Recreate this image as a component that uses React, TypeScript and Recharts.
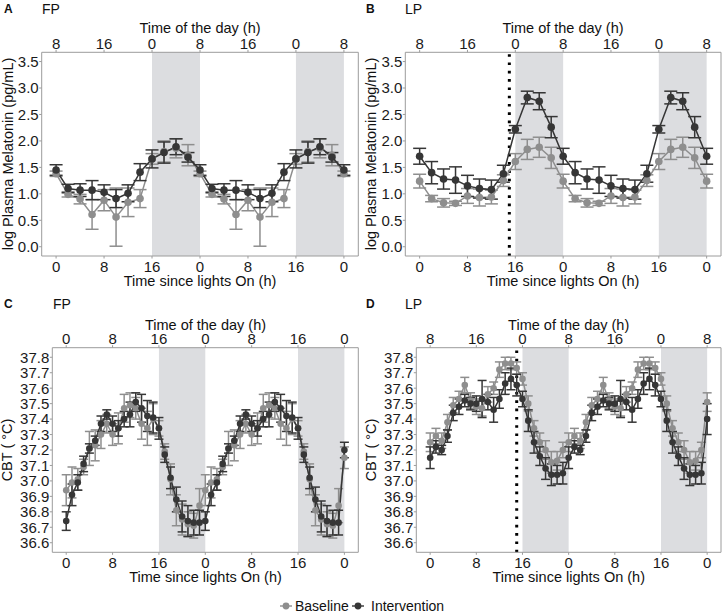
import { ComposedChart, Line, XAxis, YAxis, ReferenceArea, ReferenceLine, ErrorBar } from "recharts";

// x positions (time since lights on, h)
const melHours = [0, 2, 4, 6, 8, 10, 12, 14, 16, 18, 20, 22, 24, 26, 28, 30, 32, 34, 36, 38, 40, 42, 44, 46, 48];
const cbtHours = [
  0, 1, 2, 3, 4, 5, 6, 7, 8, 9, 10, 11, 12, 13, 14, 15, 16, 17, 18, 19, 20, 21, 22, 23, 24,
  25, 26, 27, 28, 29, 30, 31, 32, 33, 34, 35, 36, 37, 38, 39, 40, 41, 42, 43, 44, 45, 46, 47, 48,
];
const xTicks = [0, 8, 16, 24, 32, 40, 48];
const melTicks = [0, 0.5, 1, 1.5, 2, 2.5, 3, 3.5];
const cbtTicks = [36.6, 36.7, 36.8, 36.9, 37.0, 37.1, 37.2, 37.3, 37.4, 37.5, 37.6, 37.7, 37.8];

// A: FP melatonin, 0..24 h every 2 h
const fpMelBase = [1.38, 0.99, 0.9, 0.61, 0.88, 0.56, 0.84, 0.91, 1.66, 1.8, 1.86, 1.73, 1.38];
const fpMelBaseErr = [0.05, 0.05, 0.09, 0.28, 0.2, 0.55, 0.27, 0.17, 0.1, 0.2, 0.18, 0.2, 0.05];
const fpMelInt = [1.45, 1.1, 1.07, 1.07, 1.03, 0.91, 1.01, 1.41, 1.66, 1.78, 1.89, 1.69, 1.45];
const fpMelIntErr = [0.1, 0.08, 0.12, 0.18, 0.14, 0.17, 0.16, 0.16, 0.17, 0.2, 0.15, 0.09, 0.1];

// B: LP melatonin
const lpMelBase = [1.24, 0.91, 0.83, 0.82, 0.96, 0.93, 0.94, 1.25, 1.61, 1.84, 1.88, 1.68, 1.24];
const lpMelBaseErr = [0.13, 0.06, 0.08, 0.04, 0.14, 0.16, 0.13, 0.11, 0.15, 0.19, 0.19, 0.2, 0.13];
const lpMelInt = [1.71, 1.4, 1.28, 1.26, 1.15, 1.1, 1.08, 1.38, 2.22, 2.82, 2.75, 2.26, 1.71];
const lpMelIntErr = [0.15, 0.21, 0.19, 0.25, 0.2, 0.18, 0.18, 0.16, 0.07, 0.12, 0.16, 0.2, 0.15];

// C: FP core body temperature, 0..23 h hourly, plus last point at 48 h
const fpCbtBase = [36.94, 36.99, 37.01, 37.09, 37.21, 37.23, 37.3, 37.37, 37.3, 37.34, 37.47, 37.49, 37.47, 37.37, 37.34, 37.4, 37.34, 37.19, 37.01, 36.81, 36.75, 36.72, 36.71, 36.84];
const fpCbtBaseErr = [0.1, 0.1, 0.07, 0.05, 0.11, 0.1, 0.09, 0.06, 0.07, 0.1, 0.09, 0.08, 0.07, 0.1, 0.11, 0.1, 0.05, 0.05, 0.1, 0.1, 0.1, 0.08, 0.08, 0.11];
const fpCbtBaseEnd = [37.15, 0.07];
const fpCbtInt = [36.74, 36.91, 36.99, 37.11, 37.21, 37.26, 37.37, 37.43, 37.37, 37.34, 37.4, 37.43, 37.51, 37.47, 37.42, 37.41, 37.34, 37.17, 37.02, 36.88, 36.77, 36.74, 36.73, 36.73];
const fpCbtIntErr = [0.06, 0.07, 0.05, 0.05, 0.03, 0.03, 0.05, 0.03, 0.05, 0.05, 0.05, 0.08, 0.06, 0.09, 0.1, 0.1, 0.07, 0.05, 0.07, 0.08, 0.1, 0.1, 0.08, 0.08];
const fpCbtIntEnd = [37.2, 0.05];

// D: LP core body temperature
const lpCbtBase = [37.25, 37.29, 37.26, 37.38, 37.49, 37.53, 37.62, 37.52, 37.48, 37.47, 37.56, 37.6, 37.72, 37.76, 37.76, 37.73, 37.66, 37.5, 37.34, 37.25, 37.2, 37.12, 37.13, 37.2];
const lpCbtBaseErr = [0.06, 0.05, 0.05, 0.05, 0.05, 0.05, 0.05, 0.05, 0.05, 0.05, 0.05, 0.04, 0.05, 0.04, 0.04, 0.04, 0.04, 0.05, 0.05, 0.06, 0.06, 0.07, 0.06, 0.05];
const lpCbtBaseEnd = [37.51, 0.06];
const lpCbtInt = [37.15, 37.22, 37.2, 37.29, 37.44, 37.48, 37.52, 37.5, 37.5, 37.53, 37.51, 37.46, 37.53, 37.63, 37.66, 37.62, 37.53, 37.39, 37.25, 37.16, 37.08, 37.04, 37.04, 37.05];
const lpCbtIntErr = [0.07, 0.04, 0.03, 0.04, 0.05, 0.05, 0.04, 0.04, 0.05, 0.12, 0.05, 0.08, 0.06, 0.07, 0.07, 0.07, 0.05, 0.07, 0.07, 0.06, 0.07, 0.07, 0.06, 0.07];
const lpCbtIntEnd = [37.4, 0.1];

const GRAY = "#8e8e8e";
const DARK = "#363636";
const FRAME = "#9c9c9c";
const SHADE = "#dcdde0";
const TXT = "#1a1a1a";
const FONT = "'Liberation Sans', Arial, sans-serif";

// double plot: the 24 h profile is drawn twice
const melCycle = (v: number[]) => v.concat(v.slice(1));
const cbtCycle = (v: number[], end: number) => v.concat(v, [end]);

type Row = { h: number; base: number; baseErr: number; intv: number; intvErr: number };

function rows(hours: number[], base: number[], baseErr: number[], intv: number[], intvErr: number[]): Row[] {
  return hours.map((h, i) => ({ h, base: base[i], baseErr: baseErr[i], intv: intv[i], intvErr: intvErr[i] }));
}

const dataA = rows(melHours, melCycle(fpMelBase), melCycle(fpMelBaseErr), melCycle(fpMelInt), melCycle(fpMelIntErr));
const dataB = rows(melHours, melCycle(lpMelBase), melCycle(lpMelBaseErr), melCycle(lpMelInt), melCycle(lpMelIntErr));
const dataC = rows(
  cbtHours,
  cbtCycle(fpCbtBase, fpCbtBaseEnd[0]),
  cbtCycle(fpCbtBaseErr, fpCbtBaseEnd[1]),
  cbtCycle(fpCbtInt, fpCbtIntEnd[0]),
  cbtCycle(fpCbtIntErr, fpCbtIntEnd[1])
);
const dataD = rows(
  cbtHours,
  cbtCycle(lpCbtBase, lpCbtBaseEnd[0]),
  cbtCycle(lpCbtBaseErr, lpCbtBaseEnd[1]),
  cbtCycle(lpCbtInt, lpCbtIntEnd[0]),
  cbtCycle(lpCbtIntErr, lpCbtIntEnd[1])
);

interface PanelProps {
  left: number;
  top: number;
  data: Row[];
  yDomain: [number, number];
  yTicks: number[];
  yLeft: number;
  yRight: number;
  xTop: number;
  xBottom: number;
  topShift: number;
  dotted?: boolean;
  r: number;
  cap: number;
}

function Panel(p: PanelProps) {
  const tick = { fill: TXT, fontSize: 15, fontFamily: FONT };
  const xDomain: [number, number] = [-2.4, 50.4];
  return (
    <div style={{ position: "absolute", left: p.left, top: p.top }}>
      <ComposedChart width={362} height={300} data={p.data} margin={{ top: 0, right: 0, bottom: 0, left: 0 }}>
        <XAxis
          xAxisId="b"
          dataKey="h"
          type="number"
          domain={xDomain}
          allowDataOverflow
          ticks={xTicks}
          interval={0}
          tickFormatter={(v: number) => String(v % 24)}
          height={p.xBottom}
          tickSize={2.5}
          tickMargin={3}
          stroke={FRAME}
          tick={tick}
        />
        <XAxis
          xAxisId="t"
          orientation="top"
          dataKey="h"
          type="number"
          domain={xDomain}
          allowDataOverflow
          ticks={xTicks}
          interval={0}
          tickFormatter={(v: number) => String((v + p.topShift) % 24)}
          height={p.xTop}
          tickSize={2.5}
          tickMargin={1}
          stroke={FRAME}
          tick={tick}
        />
        <YAxis
          yAxisId="l"
          type="number"
          domain={p.yDomain}
          allowDataOverflow
          ticks={p.yTicks}
          interval={0}
          tickFormatter={(v: number) => v.toFixed(1)}
          width={p.yLeft}
          tickSize={2.5}
          tickMargin={0.5}
          stroke={FRAME}
          tick={tick}
        />
        <YAxis
          yAxisId="r"
          orientation="right"
          type="number"
          domain={p.yDomain}
          allowDataOverflow
          width={p.yRight}
          tick={false}
          tickLine={false}
          stroke={FRAME}
        />
        <ReferenceArea xAxisId="b" yAxisId="l" x1={16} x2={24} fill={SHADE} fillOpacity={1} stroke="none" />
        <ReferenceArea xAxisId="b" yAxisId="l" x1={40} x2={48} fill={SHADE} fillOpacity={1} stroke="none" />
        {p.dotted && (
          <ReferenceLine xAxisId="b" yAxisId="l" x={15} stroke="#000" strokeWidth={3} strokeDasharray="2.6 5.7" />
        )}
        <Line
          xAxisId="b"
          yAxisId="l"
          dataKey="base"
          stroke={GRAY}
          strokeWidth={1.5}
          dot={{ r: p.r, fill: GRAY, stroke: GRAY, strokeWidth: 0 }}
          activeDot={false}
          isAnimationActive={false}
        >
          <ErrorBar dataKey="baseErr" width={p.cap} stroke={GRAY} strokeWidth={1.5} />
        </Line>
        <Line
          xAxisId="b"
          yAxisId="l"
          dataKey="intv"
          stroke={DARK}
          strokeWidth={1.5}
          dot={{ r: p.r, fill: DARK, stroke: DARK, strokeWidth: 0 }}
          activeDot={false}
          isAnimationActive={false}
        >
          <ErrorBar dataKey="intvErr" width={p.cap} stroke={DARK} strokeWidth={1.5} />
        </Line>
      </ComposedChart>
    </div>
  );
}

function Titles() {
  const t = { fontFamily: FONT, fontSize: 14.5, fill: "#111" };
  const letter = { fontFamily: FONT, fontSize: 12, fontWeight: 700, fill: "#111" };
  const panels = [
    { x: 0, y: 0, name: "A", tag: "FP", tx: 42, cx: 200, top: 32.8, bottom: 285.5, yl: 12.7, yc: 154, ylab: "log Plasma Melatonin (pg/mL)" },
    { x: 362, y: 0, name: "B", tag: "LP", tx: 405, cx: 563, top: 32.8, bottom: 285.5, yl: 376, yc: 154, ylab: "log Plasma Melatonin (pg/mL)" },
    { x: 0, y: 295, name: "C", tag: "FP", tx: 53, cx: 205.5, top: 329.5, bottom: 582, yl: 11.5, yc: 450, ylab: "CBT ( °C)" },
    { x: 362, y: 295, name: "D", tag: "LP", tx: 405, cx: 568.7, top: 329.5, bottom: 582, yl: 375.5, yc: 450, ylab: "CBT ( °C)" },
  ];
  return (
    <svg width={724} height={613} style={{ position: "absolute", left: 0, top: 0, pointerEvents: "none" }}>
      {panels.map((p) => (
        <g key={p.name}>
          <text x={p.x + 4} y={p.y + 13.4} {...letter}>{p.name}</text>
          <text x={p.tx} y={p.y + 13.5} {...t} fontSize={14}>{p.tag}</text>
          <text x={p.cx} y={p.top} textAnchor="middle" {...t}>Time of the day (h)</text>
          <text x={p.cx} y={p.bottom} textAnchor="middle" {...t}>Time since lights On (h)</text>
          <text transform={`translate(${p.yl},${p.yc}) rotate(-90)`} textAnchor="middle" {...t}>{p.ylab}</text>
        </g>
      ))}
      <g>
        <line x1={280} x2={292} y1={606} y2={606} stroke={GRAY} strokeWidth={1.4} />
        <circle cx={286} cy={606} r={3.4} fill={GRAY} />
        <text x={295} y={610.5} fontFamily={FONT} fontSize={14} fill="#111">Baseline</text>
        <line x1={352} x2={364} y1={606} y2={606} stroke={DARK} strokeWidth={1.4} />
        <circle cx={358} cy={606} r={3.4} fill={DARK} />
        <text x={371} y={610.5} fontFamily={FONT} fontSize={14} fill="#111">Intervention</text>
      </g>
    </svg>
  );
}

export default function App() {
  return (
    <div style={{ position: "absolute", left: 0, top: 0, width: 724, height: 613, background: "#fff", fontFamily: FONT }}>
      <Panel left={0} top={0} data={dataA} yDomain={[-0.175, 3.675]} yTicks={melTicks} yLeft={41.7} yRight={3.7} xTop={52.3} xBottom={44} topShift={8} r={3.8} cap={6.5} />
      <Panel left={362} top={0} data={dataB} yDomain={[-0.175, 3.675]} yTicks={melTicks} yLeft={43.3} yRight={3} xTop={52.3} xBottom={44} topShift={8} dotted r={3.8} cap={6.5} />
      <Panel left={0} top={300} data={dataC} yDomain={[36.538, 37.862]} yTicks={cbtTicks} yLeft={52.3} yRight={3.7} xTop={47.7} xBottom={47.7} topShift={0} r={3.3} cap={4.5} />
      <Panel left={362} top={300} data={dataD} yDomain={[36.538, 37.862]} yTicks={cbtTicks} yLeft={54.3} yRight={3} xTop={47.7} xBottom={47.7} topShift={8} dotted r={3.3} cap={4.5} />
      <Titles />
    </div>
  );
}
